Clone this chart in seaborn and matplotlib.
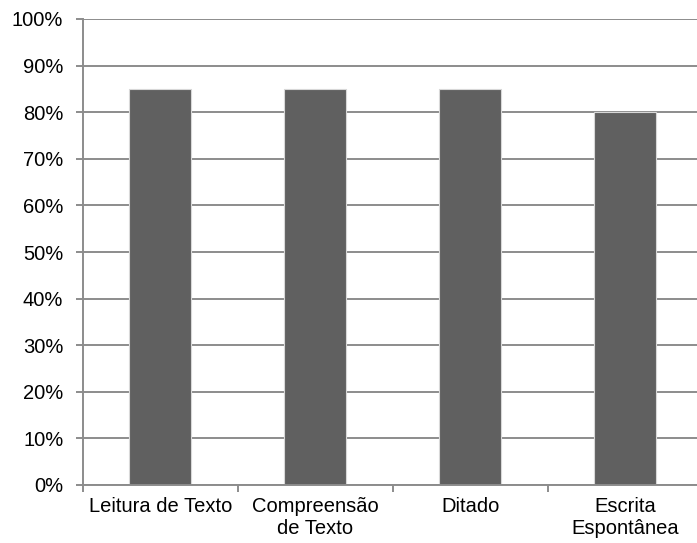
import matplotlib
matplotlib.use("Agg")
import matplotlib.pyplot as plt
from matplotlib.ticker import FixedLocator, PercentFormatter
import seaborn as sns
import pandas as pd

categories = ["Leitura de Texto", "Compreensão\nde Texto", "Ditado", "Escrita\nEspontânea"]
values = [85, 85, 85, 80]
y_ticks = list(range(0, 101, 10))

sns.set_theme(style="white")
plt.rcParams["font.family"] = ["Liberation Sans", "DejaVu Sans"]

df = pd.DataFrame({"categoria": categories, "valor": values})

fig = plt.figure(figsize=(6.97, 5.43), dpi=100)
# the plotting area runs slightly past the right edge of the canvas
ax = fig.add_axes([82.7 / 697, 1 - 485 / 543, 620 / 697, 466 / 543])

grid_color = "#8c8c8c"
ax.set_axisbelow(True)
ax.yaxis.grid(True, color=grid_color, linewidth=1.4)

sns.barplot(data=df, x="categoria", y="valor", color="#606060", saturation=1,
            width=0.40, edgecolor="#d8d8d8", linewidth=0.8, ax=ax)

ax.set_ylim(0, 100)
ax.set_xlim(-0.5, len(categories) - 0.5)
ax.set_yticks(y_ticks)
ax.yaxis.set_major_formatter(PercentFormatter(decimals=0))
ax.set_xlabel("")
ax.set_ylabel("")

for s in ["top", "right"]:
    ax.spines[s].set_visible(False)
for s in ["left", "bottom"]:
    ax.spines[s].set_color(grid_color)
    ax.spines[s].set_linewidth(1.4)

ax.tick_params(axis="y", which="major", direction="out", length=5, width=1.4,
               color=grid_color, left=True, labelsize=14.5, labelcolor="black", pad=9)
ax.tick_params(axis="x", which="major", length=0, labelsize=14.5, labelcolor="black", pad=9)
ax.xaxis.set_minor_locator(FixedLocator([i - 0.5 for i in range(len(categories) + 1)]))
ax.tick_params(axis="x", which="minor", direction="out", length=5, width=1.4,
               color=grid_color, bottom=True)

fig.savefig("out.png", dpi=100)
